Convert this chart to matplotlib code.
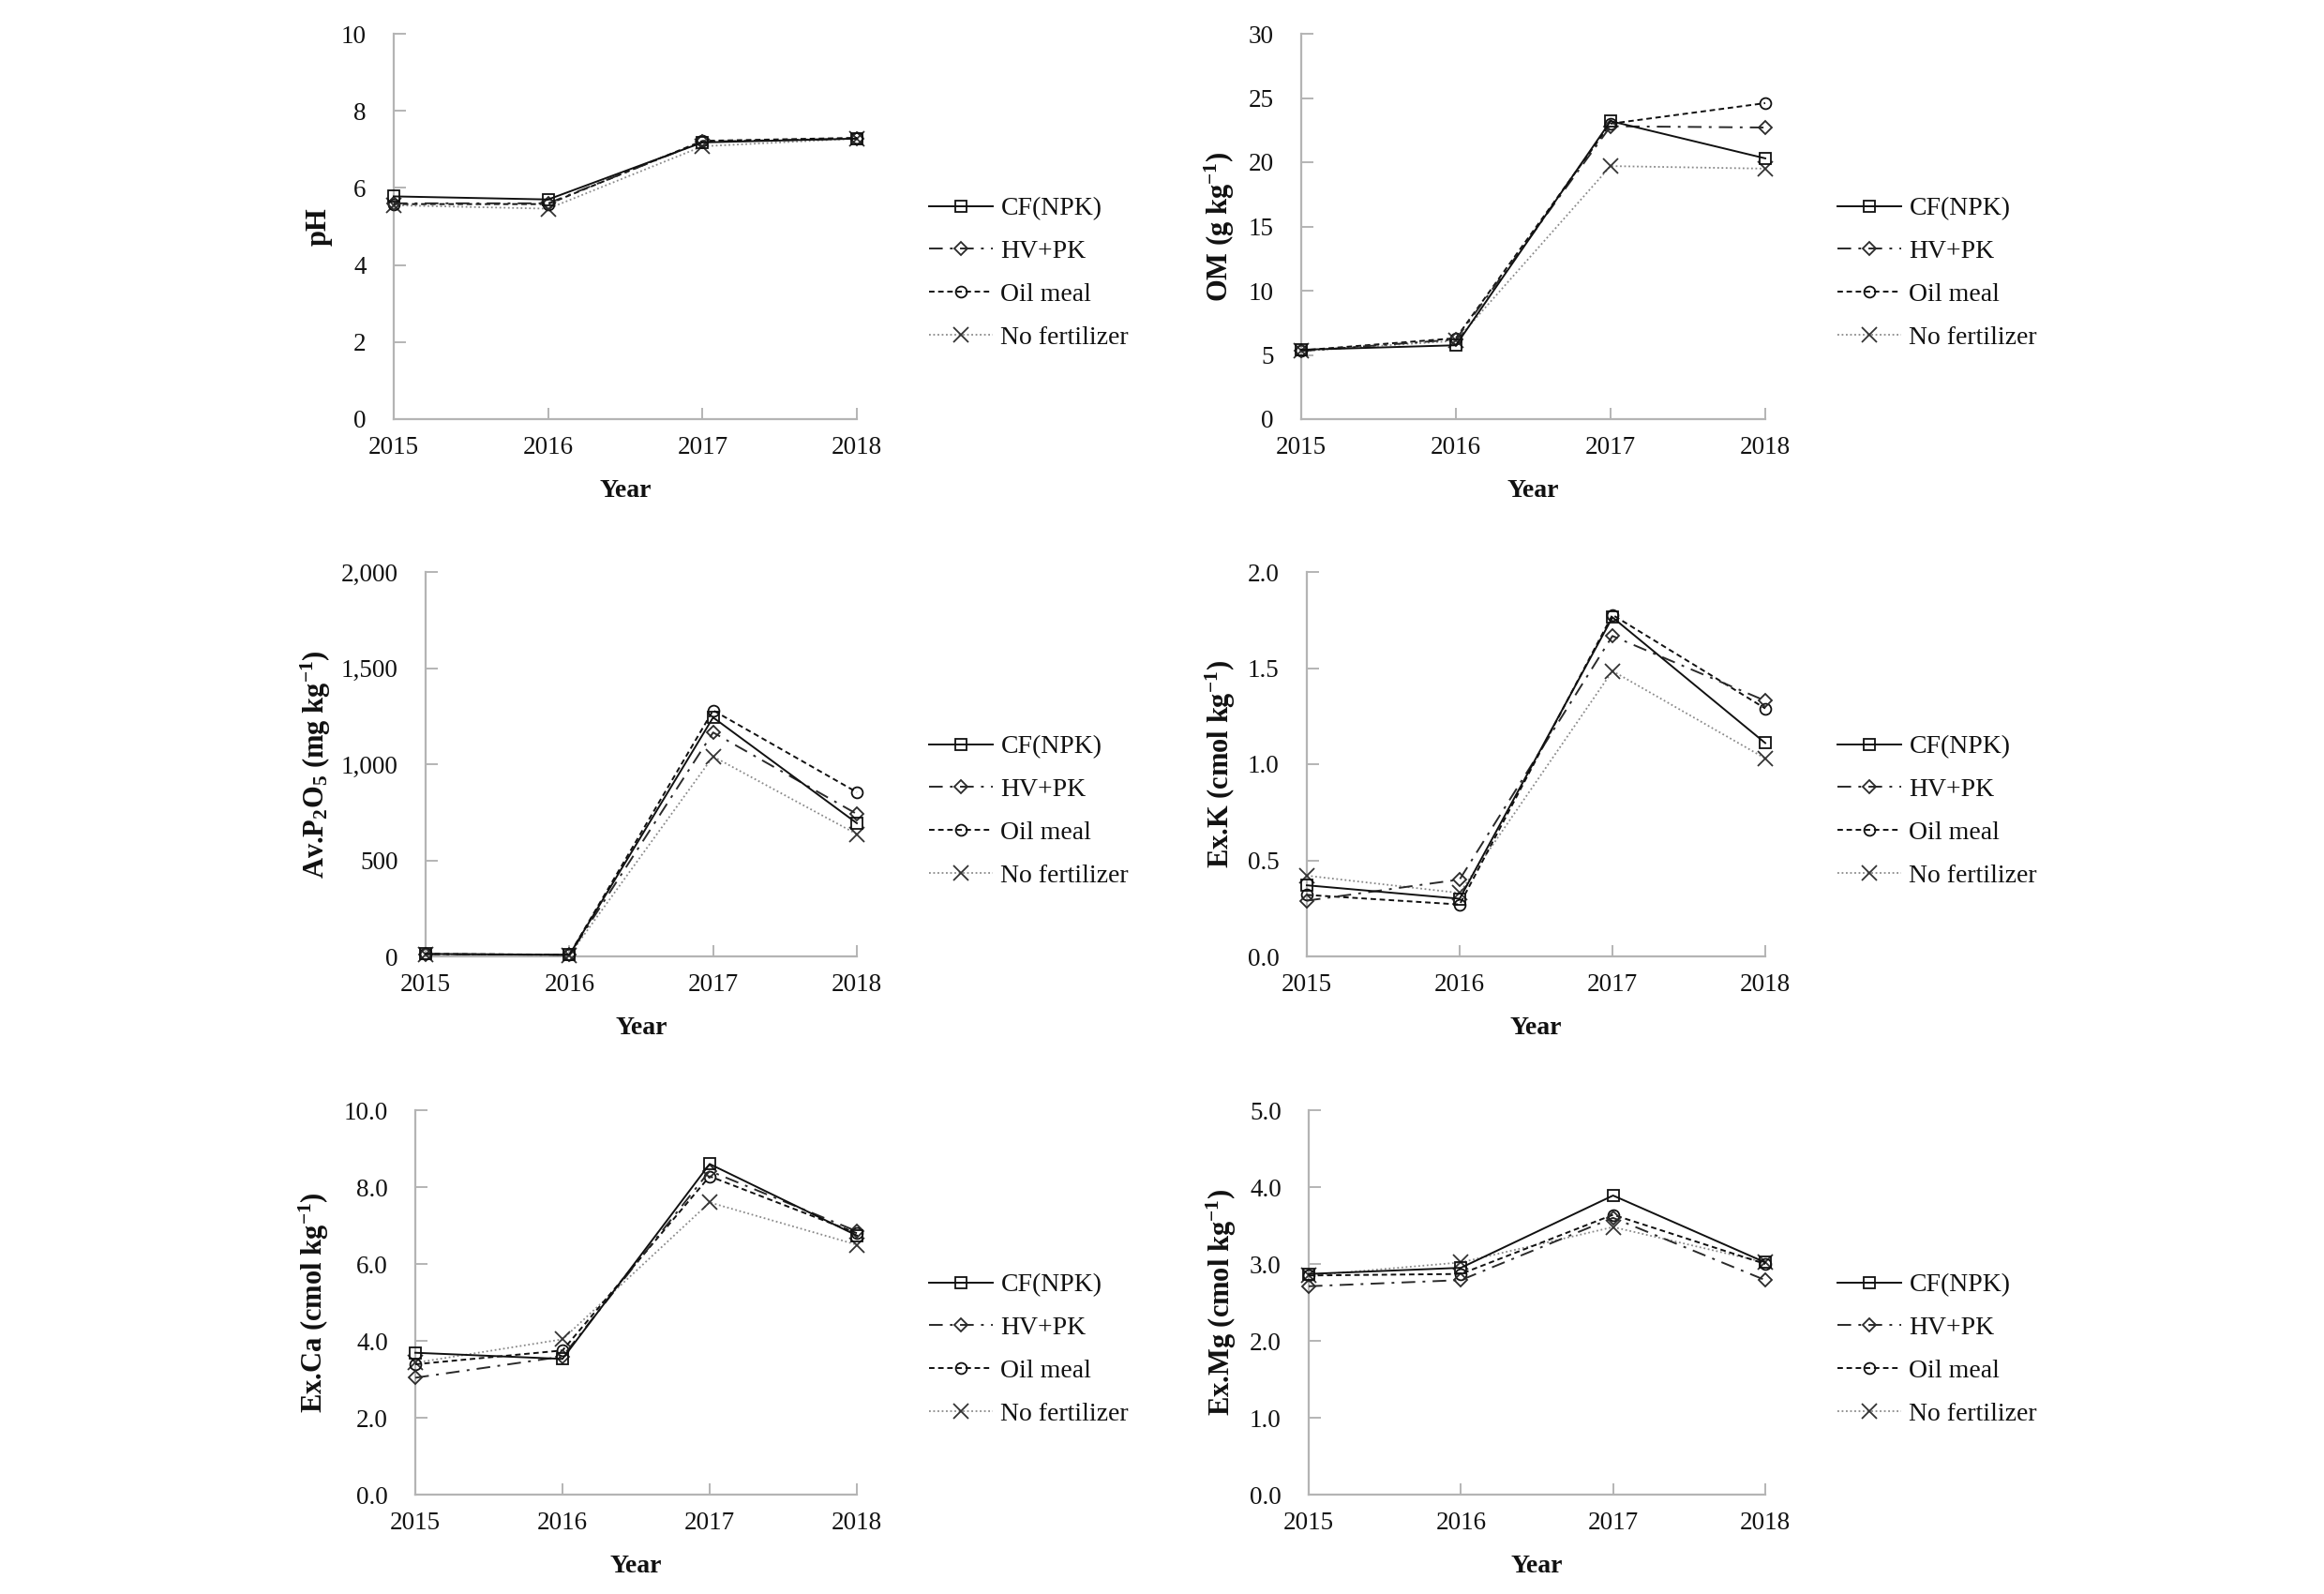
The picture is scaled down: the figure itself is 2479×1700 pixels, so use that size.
import matplotlib
matplotlib.use("Agg")
import matplotlib.pyplot as plt
import numpy as np

plt.rcParams['font.family'] = ['Liberation Serif', 'DejaVu Serif']
plt.rcParams['mathtext.fontset'] = 'custom'
plt.rcParams['mathtext.rm'] = 'Liberation Serif:bold'
plt.rcParams['mathtext.bf'] = 'Liberation Serif:bold'
plt.rcParams['mathtext.it'] = 'Liberation Serif:bold'

years = ['2015', '2016', '2017', '2018']
treatments = ['CF(NPK)', 'HV+PK', 'Oil meal', 'No fertilizer']

ph_cf = [5.78, 5.70, 7.18, 7.28]
ph_hv = [5.60, 5.60, 7.20, 7.28]
ph_oil = [5.58, 5.58, 7.22, 7.30]
ph_no = [5.55, 5.46, 7.08, 7.28]

om_cf = [5.4, 5.75, 23.2, 20.3]
om_hv = [5.3, 6.2, 22.8, 22.7]
om_oil = [5.35, 6.3, 23.0, 24.6]
om_no = [5.3, 6.1, 19.7, 19.5]

p_cf = [13, 8, 1243, 693]
p_hv = [12, 8, 1165, 741]
p_oil = [13, 9, 1280, 854]
p_no = [12, 7, 1040, 636]

k_cf = [0.37, 0.30, 1.764, 1.11]
k_hv = [0.29, 0.40, 1.667, 1.33]
k_oil = [0.32, 0.27, 1.777, 1.29]
k_no = [0.42, 0.33, 1.485, 1.03]

ca_cf = [3.69, 3.53, 8.60, 6.74]
ca_hv = [3.04, 3.59, 8.42, 6.85]
ca_oil = [3.39, 3.75, 8.28, 6.80]
ca_no = [3.43, 4.04, 7.60, 6.50]

mg_cf = [2.87, 2.95, 3.89, 3.02]
mg_hv = [2.71, 2.79, 3.60, 2.79]
mg_oil = [2.85, 2.87, 3.64, 3.00]
mg_no = [2.85, 3.02, 3.48, 3.02]

panels = [
    ('pH', [ph_cf, ph_hv, ph_oil, ph_no], [0, 2, 4, 6, 8, 10], ['0', '2', '4', '6', '8', '10']),
    ('OM (g kg$^{-1}$)', [om_cf, om_hv, om_oil, om_no], [0, 5, 10, 15, 20, 25, 30],
     ['0', '5', '10', '15', '20', '25', '30']),
    ('Av.P$_2$O$_5$ (mg kg$^{-1}$)', [p_cf, p_hv, p_oil, p_no], [0, 500, 1000, 1500, 2000],
     ['0', '500', '1,000', '1,500', '2,000']),
    ('Ex.K (cmol kg$^{-1}$)', [k_cf, k_hv, k_oil, k_no], [0, 0.5, 1.0, 1.5, 2.0],
     ['0.0', '0.5', '1.0', '1.5', '2.0']),
    ('Ex.Ca (cmol kg$^{-1}$)', [ca_cf, ca_hv, ca_oil, ca_no], [0, 2, 4, 6, 8, 10],
     ['0.0', '2.0', '4.0', '6.0', '8.0', '10.0']),
    ('Ex.Mg (cmol kg$^{-1}$)', [mg_cf, mg_hv, mg_oil, mg_no], [0, 1, 2, 3, 4, 5],
     ['0.0', '1.0', '2.0', '3.0', '4.0', '5.0']),
]

W, H = 2479, 1700
fig = plt.figure(figsize=(W / 100, H / 100), dpi=100)
fig.patch.set_facecolor('white')

# axes boxes in pixels: (x0, x1, ytop, ybottom)
boxes = [(420, 914, 36, 447), (1388, 1883, 36, 447),
         (454, 914, 610, 1020), (1394, 1883, 610, 1020),
         (443, 914, 1184, 1594), (1396, 1883, 1184, 1594)]
# right edge (text bottom) of the rotated y labels, in pixels
ylabel_x = [355, 1319, 355, 1320, 353, 1321]
legend_pos = [(991, 210), (1960, 210), (991, 784), (1960, 784), (991, 1358), (1960, 1358)]

styles = [
    dict(color='#111111', linestyle='-', marker='s', lw=1.4),
    dict(color='#2a2a2a', linestyle=(0, (7.5, 4, 1.5, 4)), marker='D', lw=1.4),
    dict(color='#111111', linestyle=(0, (3, 2)), marker='o', lw=1.4),
    dict(color='#8a8a8a', linestyle=(0, (1, 1.5)), marker='x', lw=1.3),
]
msizes = [9, 7, 8.5, 11]

x = np.arange(len(years))
axis_grey = '#b4b4b4'

for i, (ylab, series, ticks, ticklabels) in enumerate(panels):
    x0, x1, yt, yb = boxes[i]
    ax = fig.add_axes([x0 / W, 1 - yb / H, (x1 - x0) / W, (yb - yt) / H])
    handles = []
    for j, s in enumerate(series):
        st = styles[j]
        ln, = ax.plot(x, s, color=st['color'], linestyle=st['linestyle'], lw=st['lw'],
                      marker=st['marker'], markersize=msizes[j], markerfacecolor='none',
                      markeredgecolor=st['color'] if j != 3 else '#333333',
                      markeredgewidth=1.3, clip_on=False, label=treatments[j], zorder=3 + (3 - j))
        handles.append(ln)
    ax.set_xlim(0, 3)
    ax.set_ylim(ticks[0], ticks[-1])
    ax.set_xticks(x)
    ax.set_xticklabels(years)
    ax.set_yticks(ticks)
    ax.set_yticklabels(ticklabels)
    for side in ['top', 'right']:
        ax.spines[side].set_visible(False)
    for side in ['left', 'bottom']:
        ax.spines[side].set_color(axis_grey)
        ax.spines[side].set_linewidth(1.6)
    ax.tick_params(axis='both', direction='in', color=axis_grey, width=1.4, length=9,
                   labelsize=19.5, labelcolor='#111111')
    ax.tick_params(axis='y', pad=21)
    ax.tick_params(axis='x', pad=13)
    ax.set_xlabel('Year', fontsize=20, fontweight='bold', labelpad=15, color='#111111')
    ax.set_ylabel(ylab, fontsize=22, fontweight='bold', color='#111111')
    ax.yaxis.set_label_coords((ylabel_x[i] - x0) / (x1 - x0), 0.5)
    lx, ly = legend_pos[i]
    fig.legend(handles=handles, loc='upper left', bbox_to_anchor=(lx / W, 1 - ly / H),
               frameon=False, fontsize=20, handlelength=2.45, handletextpad=0.3,
               labelspacing=0.73, borderpad=0, borderaxespad=0, labelcolor='#111111')

fig.savefig('out.png', dpi=100, facecolor='white')
